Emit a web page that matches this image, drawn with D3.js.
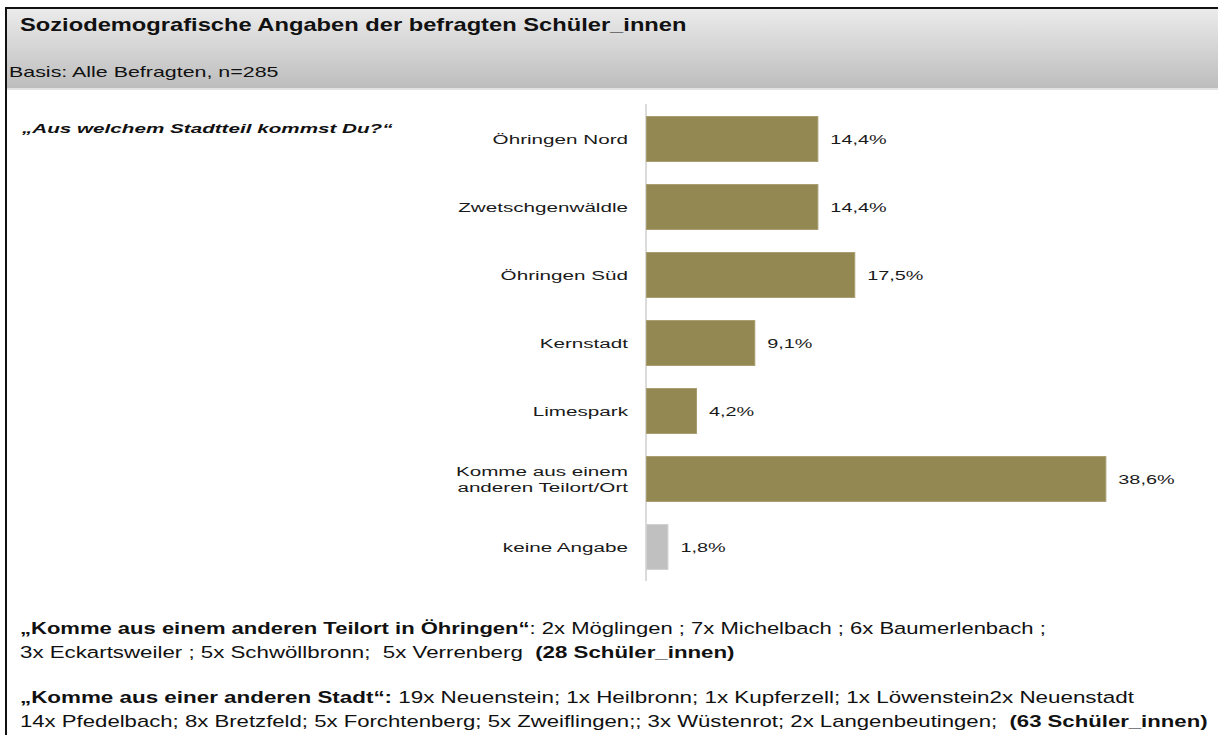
<!DOCTYPE html>
<html>
<head>
<meta charset="utf-8">
<script src="https://cdn.jsdelivr.net/npm/d3@7"></script>
<style>
  body { margin: 0; background: #fff; }
  text { font-family: "Liberation Sans", Arial, sans-serif; }
</style>
</head>
<body>
<div id="chart"></div>
<script>
// Werte aus der Grafik
var categories = ["Öhringen Nord", "Zwetschgenwäldle", "Öhringen Süd", "Kernstadt", "Limespark", "Komme aus einem anderen Teilort/Ort", "keine Angabe"];
var labelLines = [["Öhringen Nord"], ["Zwetschgenwäldle"], ["Öhringen Süd"], ["Kernstadt"], ["Limespark"], ["Komme aus einem", "anderen Teilort/Ort"], ["keine Angabe"]];
var values = [14.4, 14.4, 17.5, 9.1, 4.2, 38.6, 1.8];

var title = "Soziodemografische Angaben der befragten Schüler_innen";
var subtitle = "Basis: Alle Befragten, n=285";
var question = "„Aus welchem Stadtteil kommst Du?“";

var noteLines = [
    [["„Komme aus einem anderen Teilort in Öhringen“", true], [": 2x Möglingen ; 7x Michelbach ; 6x Baumerlenbach ;", false]],
    [["3x Eckartsweiler ; 5x Schwöllbronn;  5x Verrenberg  ", false], ["(28 Schüler_innen)", true]],
    [["„Komme aus einer anderen Stadt“:", true], [" 19x Neuenstein; 1x Heilbronn; 1x Kupferzell; 1x Löwenstein2x Neuenstadt", false]],
    [["14x Pfedelbach; 8x Bretzfeld; 5x Forchtenberg; 5x Zweiflingen;; 3x Wüstenrot; 2x Langenbeutingen;  ", false], ["(63 Schüler_innen)", true]]
];

var W = 1218, H = 735;
var svg = d3.select("#chart").append("svg")
    .attr("width", W)
    .attr("height", H);

// header gradient
var defs = svg.append("defs");
var grad = defs.append("linearGradient")
    .attr("id", "head-grad")
    .attr("x1", 0).attr("y1", 0).attr("x2", 0).attr("y2", 1);
grad.append("stop").attr("offset", "0%").attr("stop-color", "#ebebeb");
grad.append("stop").attr("offset", "100%").attr("stop-color", "#bdbdbd");

svg.append("rect")
    .attr("x", 7).attr("y", 9)
    .attr("width", W - 7).attr("height", 79)
    .style("fill", "url(#head-grad)");
svg.append("rect")
    .attr("x", 7).attr("y", 88)
    .attr("width", W - 7).attr("height", 2)
    .style("fill", "#e2e2e2");

// frame
svg.append("line")
    .attr("x1", 5).attr("x2", W).attr("y1", 8).attr("y2", 8)
    .style("stroke", "#111").style("stroke-width", 2);
svg.append("line")
    .attr("x1", 6).attr("x2", 6).attr("y1", 7).attr("y2", H)
    .style("stroke", "#111").style("stroke-width", 2);

// squeeze / stretch a text group to a width
function fitText(x, y, width, build) {
    var g = svg.append("g").attr("transform", "translate(" + x + "," + y + ")");
    var t = g.append("text").attr("x", 0).attr("y", 0);
    build(t);
    var w = t.node().getBBox().width;
    var k = width / w;
    g.attr("transform", "translate(" + x + "," + y + ") scale(" + k + ",1)");
    return g;
}

fitText(20, 31, 667, function (t) {
    t.style("font-size", "18px").style("font-weight", "bold").style("fill", "#111").text(title);
});
fitText(9, 77, 270, function (t) {
    t.style("font-size", "14px").style("fill", "#111").text(subtitle);
});
fitText(22, 133, 373, function (t) {
    t.style("font-size", "13px").style("font-weight", "bold").style("font-style", "italic")
        .style("fill", "#111").text(question);
});

// bar chart
var x = d3.scaleLinear()
    .domain([0, 40])
    .range([646, 646 + 40 * 11.9]);

var y = d3.scaleBand()
    .domain(categories)
    .range([105, 581])
    .paddingInner(0.34)
    .paddingOuter(0.17);

svg.append("line")
    .attr("x1", x(0)).attr("x2", x(0))
    .attr("y1", 104).attr("y2", 581)
    .style("stroke", "#cfcfcf").style("stroke-width", 1.5);

svg.selectAll("rect.bar")
    .data(categories)
    .enter().append("rect")
    .attr("class", "bar")
    .attr("x", x(0) + 0.5)
    .attr("y", function (d) { return y(d); })
    .attr("width", function (d, i) { return x(values[i]) - x(0); })
    .attr("height", y.bandwidth())
    .style("fill", function (d) { return d === "keine Angabe" ? "#c0c0c0" : "#938752"; })
    .style("stroke", function (d) { return d === "keine Angabe" ? "#d0d0d0" : "#a69c6e"; })
    .style("stroke-width", 1);

var labelScale = 1.53;
var valueScale = 1.47;
var fmt = d3.format(".1f");

categories.forEach(function (c, i) {
    var cy = y(c) + y.bandwidth() / 2;
    var lines = labelLines[i];
    var g = svg.append("g")
        .attr("transform", "translate(628," + cy + ") scale(" + labelScale + ",1)");
    lines.forEach(function (ln, j) {
        g.append("text")
            .attr("x", 0)
            .attr("y", (j - (lines.length - 1) / 2) * 17 + 5)
            .attr("text-anchor", "end")
            .style("font-size", "13.5px")
            .style("fill", "#1a1a1a")
            .text(ln);
    });
    svg.append("g")
        .attr("transform", "translate(" + (x(values[i]) + 13) + "," + (cy + 5) + ") scale(" + valueScale + ",1)")
        .append("text")
        .style("font-size", "13.5px")
        .style("fill", "#1a1a1a")
        .text(fmt(values[i]).replace(".", ",") + "%");
});

// notes below
var noteY = [634, 658, 703, 727];
var noteW = [1027, 715, 1115, 1188];
noteLines.forEach(function (segs, i) {
    fitText(20, noteY[i], noteW[i], function (t) {
        t.style("font-size", "17px").style("fill", "#111").attr("xml:space", "preserve");
        segs.forEach(function (s) {
            t.append("tspan")
                .style("font-weight", s[1] ? "bold" : "normal")
                .text(s[0]);
        });
    });
});
</script>
</body>
</html>
